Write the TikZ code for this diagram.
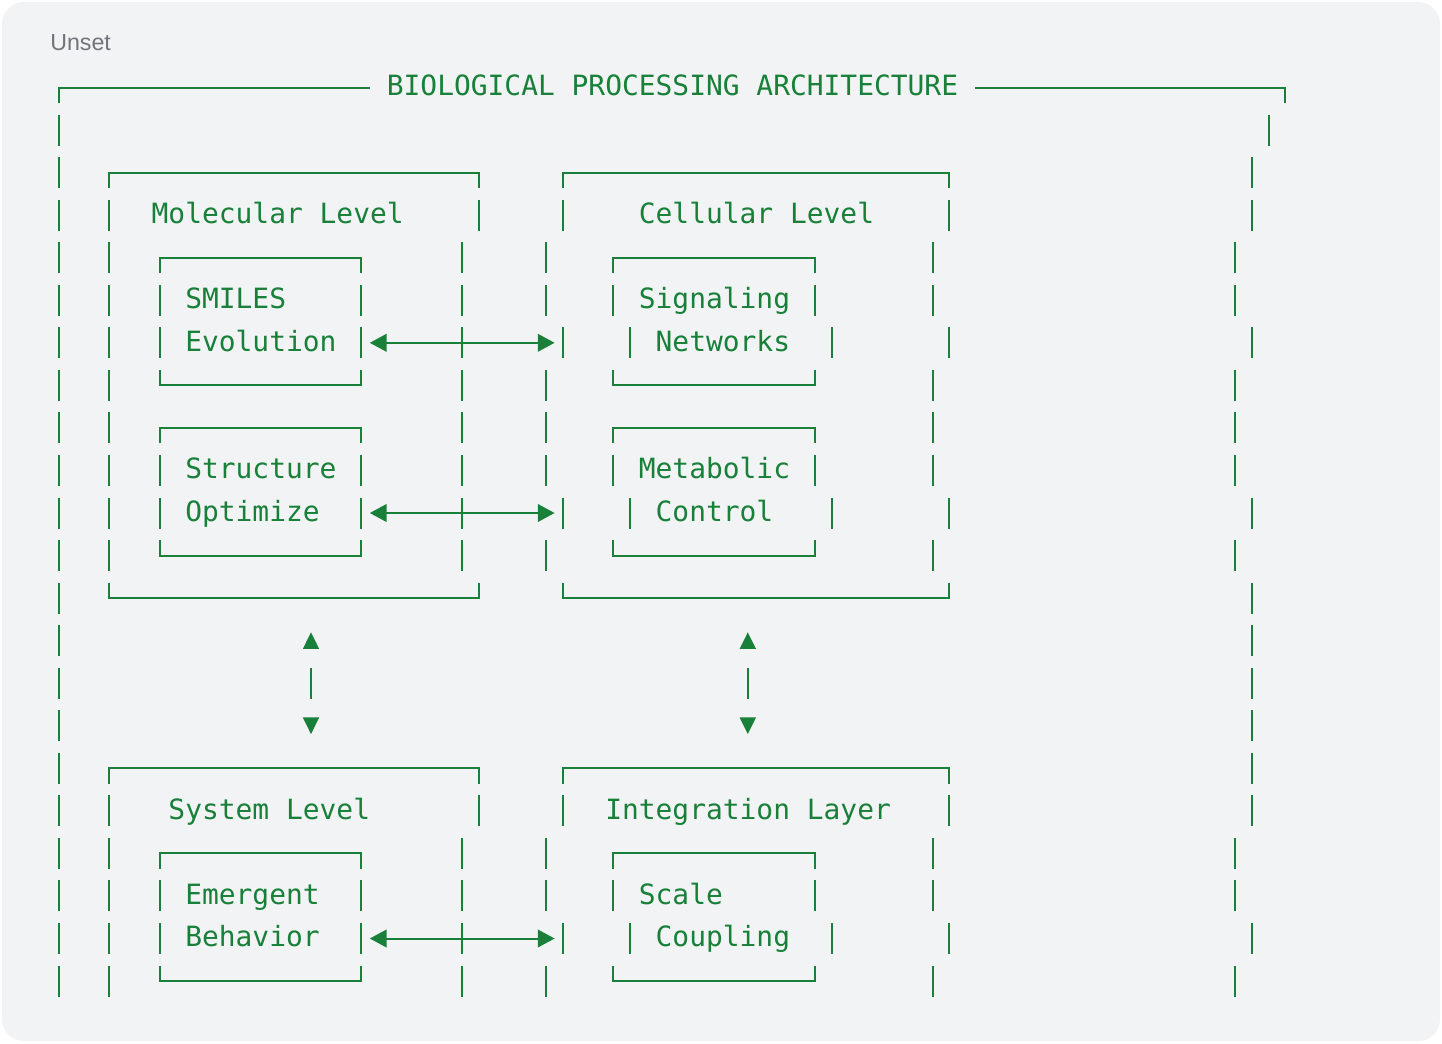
\documentclass[tikz,border=0pt]{standalone}
\usepackage{fontspec}
\setmainfont{Liberation Sans}
\newfontfamily\codefont{DejaVu Sans Mono}
\usetikzlibrary{arrows.meta}
\definecolor{codegreen}{HTML}{188038}
\definecolor{panelbg}{HTML}{F1F3F4}
\definecolor{labelgray}{HTML}{70757A}
\newcommand\XX[1]{(59+16.8*(#1))}
\newcommand\YY[1]{(87.5+42.55*(#1))}
\begin{document}
\begin{tikzpicture}[x=0.75pt,y=-0.75pt,
  glyph/.style={draw=codegreen,line width=1.5pt},
  tri/.style={fill=codegreen},
  code/.style={font=\codefont\fontsize{20.93pt}{24pt}\selectfont,text=codegreen,inner sep=0pt,anchor=base west},
  biarrow/.style={glyph,{Triangle[length=12.6pt,width=13.2pt]}-{Triangle[length=12.6pt,width=13.2pt]}}]
\useasboundingbox (0,0) rectangle (1442,1043);
\fill[white] (0,0) rectangle (1442,1043);
\fill[panelbg,rounded corners=16.5pt] (2,2) rectangle (1440,1041);
\node[font=\fontsize{17.4pt}{20pt}\selectfont,text=labelgray,inner sep=0pt,anchor=base west] (unset) at (50,50.7) {Unset};
% vertical bars
\foreach \r/\cs in {1/{0,72},2/{0,71},3/{0,3,25,30,53,71},4/{0,3,24,29,52,70},
  5/{0,3,6,18,24,29,33,45,52,70},6/{0,3,6,18,24,30,34,46,53,71},7/{0,3,24,29,52,70},
  8/{0,3,24,29,52,70},9/{0,3,6,18,24,29,33,45,52,70},10/{0,3,6,18,24,30,34,46,53,71},
  11/{0,3,24,29,52,70},12/{0,71},13/{0,71},14/{0,15,41,71},15/{0,71},16/{0,71},
  17/{0,3,25,30,53,71},18/{0,3,24,29,52,70},19/{0,3,6,18,24,29,33,45,52,70},
  20/{0,3,6,18,24,30,34,46,53,71},21/{0,3,24,29,52,70}}
  \foreach \c in \cs
    \draw[glyph] ({\XX{\c}},{\YY{\r}-15.5}) -- ({\XX{\c}},{\YY{\r}+15.5});
% top edges of boxes
\foreach \a/\b/\r in {3/25/2,30/53/2,6/18/4,33/45/4,6/18/8,33/45/8,3/25/16,30/53/16,6/18/18,33/45/18}
  \draw[glyph] ({\XX{\a}},{\YY{\r}+15.5}) -- ({\XX{\a}},{\YY{\r}}) -- ({\XX{\b}},{\YY{\r}}) -- ({\XX{\b}},{\YY{\r}+15.5});
% bottom edges of boxes
\foreach \a/\b/\r in {6/18/7,33/45/7,6/18/11,33/45/11,3/25/12,30/53/12,6/18/21,33/45/21}
  \draw[glyph] ({\XX{\a}},{\YY{\r}-15.5}) -- ({\XX{\a}},{\YY{\r}}) -- ({\XX{\b}},{\YY{\r}}) -- ({\XX{\b}},{\YY{\r}-15.5});
% title row
\node[code] (title) at ({\XX{20}-8.4},{\YY{0}+8.4}) {BIOLOGICAL PROCESSING ARCHITECTURE};
\draw[glyph] ({\XX{0}},{\YY{0}+15.5}) -- ({\XX{0}},{\YY{0}}) -- ({\XX{18}+8.4},{\YY{0}});
\draw[glyph] ({\XX{55}-8.4},{\YY{0}}) -- ({\XX{73}},{\YY{0}}) -- ({\XX{73}},{\YY{0}+15.5});
% labels
\node[code] (mol) at ({\XX{6}-8.4},{\YY{3}+8.4}) {Molecular Level};
\node[code] (cel) at ({\XX{35}-8.4},{\YY{3}+8.4}) {Cellular Level};
\node[code] (smi) at ({\XX{8}-8.4},{\YY{5}+8.4}) {SMILES};
\node[code] (evo) at ({\XX{8}-8.4},{\YY{6}+8.4}) {Evolution};
\node[code] (sig) at ({\XX{35}-8.4},{\YY{5}+8.4}) {Signaling};
\node[code] (net) at ({\XX{36}-8.4},{\YY{6}+8.4}) {Networks};
\node[code] (str) at ({\XX{8}-8.4},{\YY{9}+8.4}) {Structure};
\node[code] (opt) at ({\XX{8}-8.4},{\YY{10}+8.4}) {Optimize};
\node[code] (met) at ({\XX{35}-8.4},{\YY{9}+8.4}) {Metabolic};
\node[code] (con) at ({\XX{36}-8.4},{\YY{10}+8.4}) {Control};
\node[code] (sys) at ({\XX{7}-8.4},{\YY{17}+8.4}) {System Level};
\node[code] (int) at ({\XX{33}-8.4},{\YY{17}+8.4}) {Integration Layer};
\node[code] (eme) at ({\XX{8}-8.4},{\YY{19}+8.4}) {Emergent};
\node[code] (beh) at ({\XX{8}-8.4},{\YY{20}+8.4}) {Behavior};
\node[code] (sca) at ({\XX{35}-8.4},{\YY{19}+8.4}) {Scale};
\node[code] (cou) at ({\XX{36}-8.4},{\YY{20}+8.4}) {Coupling};
% horizontal double arrows
\foreach \r in {6,10,20} {
  \coordinate (l\r) at ({\XX{19}-8.4},{\YY{\r}});
  \coordinate (r\r) at ({\XX{29}+8.4},{\YY{\r}});
  \draw[biarrow] (l\r) -- (r\r);
}
% vertical arrows (glyphs)
\foreach \c in {15,41} {
  \fill[tri] ({\XX{\c}-8.2},{\YY{13}+8.3}) -- ({\XX{\c}+8.2},{\YY{13}+8.3}) -- ({\XX{\c}},{\YY{13}-8.3}) -- cycle;
  \fill[tri] ({\XX{\c}-8.2},{\YY{15}-8.3}) -- ({\XX{\c}+8.2},{\YY{15}-8.3}) -- ({\XX{\c}},{\YY{15}+8.3}) -- cycle;
}
\end{tikzpicture}
\end{document}
